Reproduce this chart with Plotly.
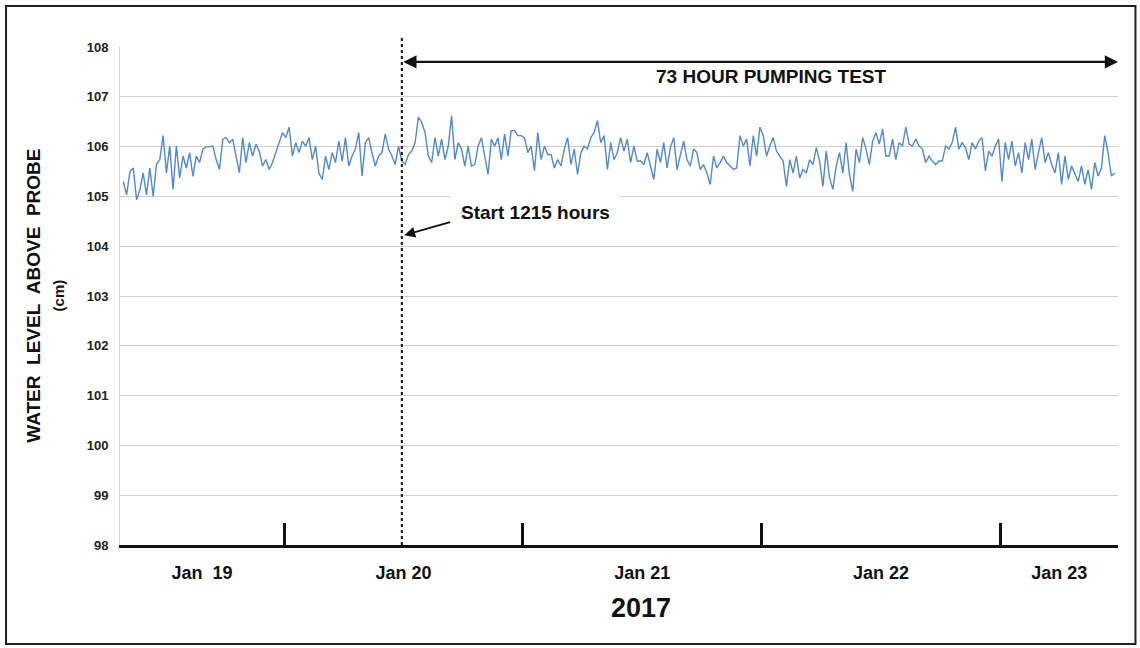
import pandas as pd
import plotly.graph_objects as go

# water level (cm above probe), logged every 20 min from Jan 19 07:50
level_1 = [105.30, 105.03, 105.50, 105.57, 104.93, 105.13, 105.47, 105.03, 105.57, 105.00,
           105.64, 105.74, 106.22, 105.47, 106.01, 105.14, 106.01, 105.37, 105.81, 105.57,
           105.88, 105.40, 105.81, 105.68, 105.95, 106.00, 106.00, 106.01, 105.74, 105.54,
           106.15, 106.18, 106.08, 106.15, 105.81, 105.47, 106.18, 105.68, 106.08, 105.81,
           106.05, 105.91, 105.61, 105.74, 105.54, 105.68, 105.88, 106.08, 106.28, 106.18,
           106.39, 105.81, 106.08, 105.88, 106.11, 106.01, 106.18, 105.74, 106.01, 105.47]
level_2 = [105.34, 105.81, 105.54, 105.88, 105.68, 106.11, 105.71, 106.18, 105.61, 105.81,
           105.95, 106.28, 105.41, 106.08, 106.18, 105.88, 105.61, 105.81, 105.88, 106.25,
           105.95, 105.81, 105.64, 106.01, 105.71, 105.64, 105.84, 105.91, 106.08, 106.59,
           106.49, 106.28, 105.81, 105.68, 106.18, 105.81, 106.15, 105.74, 106.01, 106.62,
           105.74, 106.08, 105.95, 105.61, 106.01, 105.61, 105.64, 106.01, 106.18, 105.81,
           105.44, 106.15, 106.01, 106.18, 105.74, 106.25, 105.81, 106.32, 106.32, 106.22]
level_3 = [106.22, 106.18, 105.88, 106.01, 105.51, 106.28, 105.74, 106.01, 105.84, 105.84,
           105.57, 105.74, 105.61, 105.95, 106.18, 105.64, 105.95, 105.44, 105.88, 106.01,
           105.95, 106.18, 106.28, 106.52, 106.08, 106.22, 105.54, 106.08, 105.74, 105.88,
           106.18, 105.91, 106.15, 105.68, 106.01, 105.71, 105.71, 105.64, 105.88, 105.61,
           105.34, 105.95, 105.68, 106.08, 105.57, 105.98, 106.18, 105.54, 105.81, 106.11,
           105.74, 105.61, 105.95, 105.88, 105.54, 105.64, 105.47, 105.24, 105.81, 105.57]
level_4 = [105.68, 105.81, 105.68, 105.61, 105.54, 105.57, 106.22, 106.01, 106.15, 105.61,
           106.22, 105.81, 106.39, 106.22, 105.81, 106.01, 106.18, 105.91, 105.81, 105.71,
           105.20, 105.74, 105.47, 105.81, 105.37, 105.54, 105.47, 105.74, 105.64, 105.98,
           105.71, 105.20, 105.91, 105.37, 105.14, 105.61, 105.88, 105.47, 106.08, 105.44,
           105.10, 105.95, 105.68, 106.18, 105.95, 105.64, 106.11, 106.28, 106.05, 106.35,
           105.81, 105.81, 106.15, 105.74, 106.08, 106.01, 106.39, 106.05, 106.01, 106.15]
level_5 = [106.01, 105.95, 105.68, 105.81, 105.71, 105.64, 105.71, 105.71, 106.01, 105.95,
           106.08, 106.39, 105.95, 106.08, 105.98, 105.74, 106.08, 105.95, 106.11, 106.18,
           105.51, 105.91, 105.81, 106.01, 106.15, 105.30, 106.08, 105.74, 106.11, 105.61,
           105.88, 105.47, 106.08, 105.74, 106.15, 105.54, 105.88, 106.18, 105.68, 105.88,
           105.64, 105.47, 105.88, 105.24, 105.81, 105.34, 105.61, 105.47, 105.30, 105.61,
           105.24, 105.54, 105.14, 105.68, 105.41, 105.57, 106.22, 105.88, 105.41, 105.47]

levels = level_1 + level_2 + level_3 + level_4 + level_5
times = pd.date_range('2017-01-19 07:50', periods=len(levels), freq='20min')

x_start = pd.Timestamp('2017-01-19 07:30')
x_end = pd.Timestamp('2017-01-23 11:50')
pump_start = pd.Timestamp('2017-01-20 11:50')
pump_end = pump_start + pd.Timedelta(hours=72)

day_labels = ['Jan  19', 'Jan 20', 'Jan 21', 'Jan 22', 'Jan 23']
days = pd.date_range('2017-01-19', periods=5, freq='D')
# label sits in the middle of the visible part of each day
label_pos = []
for d in days:
    a = max(d, x_start)
    b = min(d + pd.Timedelta(days=1), x_end)
    label_pos.append(a + (b - a) / 2)

arial = 'Liberation Sans, Arial, sans-serif'

fig = go.Figure()
fig.add_trace(go.Scatter(x=times, y=levels, mode='lines',
                         line=dict(color='#5289cb', width=1.4),
                         showlegend=False))

fig.update_layout(
    width=1140, height=648,
    margin=dict(l=120, r=22, t=47, b=103),
    paper_bgcolor='white', plot_bgcolor='white',
    xaxis=dict(
        range=[x_start, x_end],
        tickvals=label_pos, ticktext=day_labels, ticks='',
        tickfont=dict(family=arial, size=18, color='#111', weight='bold'),
        ticklabelstandoff=10,
        showgrid=False, showline=True, linecolor='#111', linewidth=2.5,
        minor=dict(tick0='2017-01-19', dtick=86400000, ticks='inside',
                   ticklen=22, tickwidth=2.5, tickcolor='#111', showgrid=False),
    ),
    yaxis=dict(
        range=[98, 108], dtick=1, ticks='',
        tickfont=dict(family=arial, size=13, color='#222', weight='bold'),
        ticklabelstandoff=8,
        gridcolor='#cfcfcf', gridwidth=1,
        showline=True, linecolor='#d5d5d5', linewidth=1,
        zeroline=False,
    ),
)

# start of pumping: dotted line
fig.add_shape(type='line', xref='x', yref='paper', x0=pump_start, x1=pump_start,
              y0=0, y1=1.024, line=dict(color='#111', width=2, dash='dot'))

# 73 hour double arrow
fig.add_annotation(x=pump_end, y=107.7, ax=pump_start, ay=107.7, axref='x', ayref='y',
                   text='', showarrow=True, arrowside='end+start', arrowhead=2,
                   arrowsize=1.2, arrowwidth=2.2, arrowcolor='#111')
fig.add_annotation(x=pump_start + (pump_end - pump_start) / 2 + pd.Timedelta(hours=1.2),
                   y=107.4, text='<b>73 HOUR PUMPING TEST</b>', showarrow=False,
                   font=dict(family=arial, size=19, color='#111'))

# start note
fig.add_annotation(x=pump_start + pd.Timedelta(hours=13.4), y=104.67,
                   text='<b>Start 1215 hours</b>', showarrow=False,
                   font=dict(family=arial, size=19, color='#111'),
                   bgcolor='white', borderpad=10)
fig.add_annotation(x=pump_start + pd.Timedelta(minutes=15), y=104.22,
                   ax=pump_start + pd.Timedelta(hours=5), ay=104.49, axref='x', ayref='y',
                   text='', showarrow=True, arrowhead=2, arrowsize=1.2,
                   arrowwidth=1.8, arrowcolor='#111')

# axis titles
fig.add_annotation(xref='paper', yref='paper', x=-0.1, y=0.5, textangle=-90,
                   text='<b>WATER  LEVEL  ABOVE  PROBE</b><br>'
                        '<b><span style="font-size:15px">(cm)</span></b>',
                   showarrow=False, font=dict(family=arial, size=19, color='#111'))
fig.add_annotation(xref='paper', yref='paper', x=0.522, y=-0.16, text='<b>2017</b>',
                   showarrow=False, font=dict(family=arial, size=27, color='#111'))

# outer frame
fig.add_shape(type='rect', xref='paper', yref='paper', x0=-0.1142, x1=1.0175,
              y0=-0.1988, y1=1.0823, line=dict(color='#222', width=2))

fig.write_html('out.html', config={'displayModeBar': False},
               post_script="document.body.style.margin='0';")
